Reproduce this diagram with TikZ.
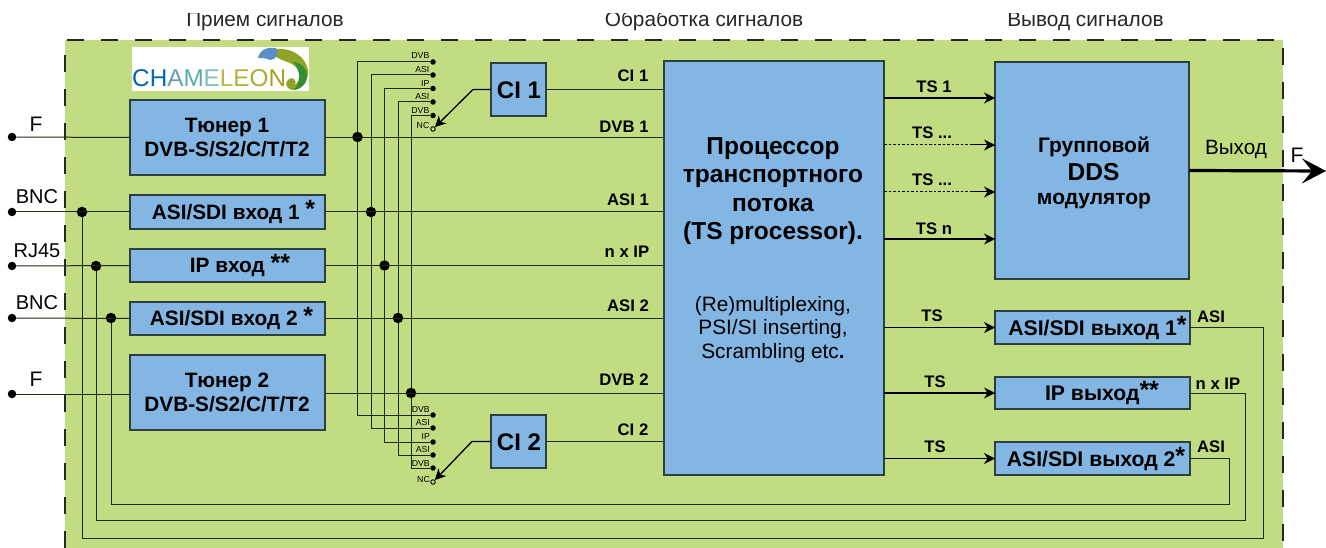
\documentclass[tikz,border=0pt]{standalone}
\usepackage{fontspec}
\setmainfont{Liberation Sans}
\usetikzlibrary{arrows.meta,calc}
\definecolor{bggreen}{HTML}{C2DC82}
\definecolor{boxblue}{HTML}{83B6E2}
\definecolor{boxline}{HTML}{2E3F3F}
\definecolor{wire}{HTML}{1E2A14}
\newcommand{\fs}[1]{\fontsize{#1}{#1}\selectfont}
\newcommand{\fsb}[2]{\fontsize{#1}{#2}\selectfont}
\newcommand{\strs}[1]{\raisebox{1.5pt}{\fs{25}#1}}
\tikzset{
  x=1pt,y=-1pt,
  blk/.style={draw=boxline,line width=1.1pt,fill=boxblue,inner sep=0pt,outer sep=0pt},
  blktxt/.style={inner sep=0pt,align=center,font=\bfseries\fsb{20.8}{24}},
  wireln/.style={draw=wire,line width=1pt},
  dotj/.style={circle,fill=black,inner sep=0pt,minimum size=10.5pt},
  dotp/.style={circle,fill=black,inner sep=0pt,minimum size=5.5pt},
  openp/.style={circle,draw=black,fill=none,line width=.9pt,inner sep=0pt,minimum size=4.5pt},
  termd/.style={circle,fill=black,inner sep=0pt,minimum size=8.5pt},
  lab/.style={inner sep=0pt,font=\bfseries\fs{16.7}},
  plain/.style={inner sep=0pt,font=\fs{20}},
  small/.style={inner sep=0pt,anchor=east,font=\fs{8.7}},
  tip/.style={-{Stealth[length=11pt,width=11pt,inset=3.5pt]}},
  head/.style={inner sep=0pt,anchor=base,font=\fs{20.8},text=black!85},
}
\begin{document}
\begin{tikzpicture}
\useasboundingbox (0,0) rectangle (1326,548);
% backdrop
\fill[bggreen] (65,40) rectangle (1283,548);
\draw[black!85,line width=1.2pt,dash pattern=on 17pt off 17pt] (65,548) -- (65,40) -- (1283,40) -- (1283,548);
% headers, cut at the top as in the reference
\begin{scope}
\clip (0,13.5) rectangle (1326,60);
\node[head] (h1) at (265,27) {Прием сигналов};
\node[head] (h2) at (704,27) {Обработка сигналов};
\node[head] (h3) at (1085.5,27) {Вывод сигналов};
\end{scope}
% logo
\fill[white] (132,47) rectangle (309,91);
\node[inner sep=0pt,anchor=base west,font=\fs{24.3}] (logo) at (132,87) {\textcolor{blue!45!cyan!70!black}{C}\textcolor{blue!40!cyan!70!black}{H}\textcolor{cyan!55!black!75}{A}\textcolor{teal!65}{M}\textcolor{teal!50}{E}\textcolor{olive!60}{L}\textcolor{olive!65}{E}\textcolor{olive!70}{O}\textcolor{olive!80}{N}};
\fill[olive!75!green!85] (270,50) .. controls (285,46) and (304,52) .. (308,70) .. controls (309,82) and (300,91) .. (292,90) .. controls (286,89) and (284,82) .. (289,79) .. controls (294,76) and (298,82) .. (294,85) .. controls (302,82) and (300,68) .. (292,64) .. controls (284,60) and (276,60) .. (270,50);
\fill[teal!65!blue!65] (258,58) .. controls (260,49) and (268,47) .. (276,48) .. controls (280,53) and (276,60) .. (270,60) .. controls (266,58) and (262,58) .. (258,58);
\fill[green!45!black!80] (293,62) .. controls (301,63) and (307,68) .. (307,76) .. controls (307,84) and (300,90) .. (293,90) .. controls (301,84) and (302,70) .. (293,62);
% blocks
\node[blk,minimum width=195pt,minimum height=75pt] (tun1) at (227.5,137.5) {};
\node[blk,minimum width=195pt,minimum height=34pt] (asi1) at (227.5,212) {};
\node[blk,minimum width=195pt,minimum height=33pt] (ipin) at (227.5,265.5) {};
\node[blk,minimum width=195pt,minimum height=33pt] (asi2) at (227.5,318.5) {};
\node[blk,minimum width=195pt,minimum height=75pt] (tun2) at (227.5,392.5) {};
\node[blk,minimum width=55pt,minimum height=53pt] (ci1) at (518.5,89.5) {};
\node[blk,minimum width=55pt,minimum height=53pt] (ci2) at (518.5,441.5) {};
\node[blk,minimum width=220pt,minimum height=414pt] (proc) at (774,268) {};
\node[blk,minimum width=194pt,minimum height=217pt] (mod) at (1092,170.5) {};
\node[blk,minimum width=195pt,minimum height=33pt] (asio1) at (1092.5,327.5) {};
\node[blk,minimum width=195pt,minimum height=32pt] (ipo) at (1092.5,393) {};
\node[blk,minimum width=195pt,minimum height=33pt] (asio2) at (1092.5,458.5) {};
% block texts
\node[blktxt] (tun1t) at (227,138) {Тюнер 1\\DVB-S/S2/C/T/T2};
\node[blktxt] (asi1t) at (233.5,212) {ASI/SDI вход 1 \strs{*}};
\node[blktxt] (ipint) at (240,265.5) {IP вход \strs{**}};
\node[blktxt] (asi2t) at (231.5,318.5) {ASI/SDI вход 2 \strs{*}};
\node[blktxt] (tun2t) at (227,392) {Тюнер 2\\DVB-S/S2/C/T/T2};
\node[blktxt,font=\bfseries\fs{24}] (ci1t) at (519,90) {CI 1};
\node[blktxt,font=\bfseries\fs{24}] (ci2t) at (519,442) {CI 2};
\node[blktxt,font=\bfseries\fs{21.2}] (aot1) at (1097.5,328) {ASI/SDI выход 1\strs{*}};
\node[blktxt,font=\bfseries\fs{21.2}] (ipot) at (1102,393) {IP выход\strs{**}};
\node[blktxt,font=\bfseries\fs{21.2}] (aot2) at (1096,459) {ASI/SDI выход 2\strs{*}};
\node[inner sep=0pt,align=center,font=\bfseries\fsb{24.5}{28.5}] (proct) at (773,191) {Процессор\\транспортного\\потока\\(TS processor).};
\node[inner sep=0pt,align=center,font=\fsb{20.8}{23.2}] (procs) at (773,329.5) {(Re)multiplexing,\\PSI/SI inserting,\\Scrambling etc\textbf{.}};
\node[inner sep=0pt,anchor=base,font=\bfseries\fs{21}] (modt1) at (1094,153) {Групповой};
\node[inner sep=0pt,anchor=base,font=\bfseries\fs{24.5}] (modt2) at (1093.5,181) {DDS};
\node[inner sep=0pt,anchor=base,font=\bfseries\fs{21}] (modt3) at (1094,205) {модулятор};
% terminals
\node[termd] (tf1) at (12,137) {};
\node[termd] (tb1) at (12,212) {};
\node[termd] (tr) at (12,266) {};
\node[termd] (tb2) at (12,318) {};
\node[termd] (tf2) at (12,394) {};
\node[plain,font=\fs{21}] (lf1) at (36,124) {F};
\node[plain] (lb1) at (37,197) {BNC};
\node[plain] (lr) at (37,251) {RJ45};
\node[plain] (lb2) at (37,303) {BNC};
\node[plain,font=\fs{21}] (lf2) at (36,379) {F};
% junctions
\node[dotj] (jl1) at (82,212) {};
\node[dotj] (jl2) at (96,266) {};
\node[dotj] (jl3) at (111,318) {};
\node[dotj] (js1) at (357.5,137) {};
\node[dotj] (js2) at (371,212) {};
\node[dotj] (js3) at (384.5,265.5) {};
\node[dotj] (js4) at (398,318) {};
\node[dotj] (js5) at (411,393) {};
% switch contacts, top
\node[dotp] (a1) at (433,62) {};
\node[dotp] (a2) at (433,75) {};
\node[dotp] (a3) at (433,88.5) {};
\node[dotp] (a4) at (433,102) {};
\node[dotp] (a5) at (433,115.5) {};
\node[openp] (a6) at (433,129) {};
% switch contacts, bottom
\node[dotp] (b1) at (433,415) {};
\node[dotp] (b2) at (433,428) {};
\node[dotp] (b3) at (433,442) {};
\node[dotp] (b4) at (433,455) {};
\node[dotp] (b5) at (433,468) {};
\node[openp] (b6) at (433,482) {};
\foreach \n/\t/\y in {a1/DVB/56,a2/ASI/69.5,a3/IP/83.5,a4/ASI/97,a5/DVB/111,a6/NC/126}{
  \node[small] (l\n) at (429.5,\y) {\t};
}
\foreach \n/\t/\y in {b1/DVB/409.5,b2/ASI/423,b3/IP/437,b4/ASI/450,b5/DVB/464,b6/NC/480}{
  \node[small] (l\n) at (430,\y) {\t};
}
% input wires
\draw[wireln] (tf1) -- (tun1.west);
\draw[wireln] (tb1) -- (asi1.west);
\draw[wireln] (tr) -- (ipin.west);
\draw[wireln] (tb2) -- (asi2.west);
\draw[wireln] (tf2) -- (tf2 -| tun2.west);
% inputs to processor
\draw[wireln] (tun1.east) -- (tun1.east -| proc.west);
\draw[wireln] (asi1.east) -- (asi1.east -| proc.west);
\draw[wireln] (ipin.east) -- (ipin.east -| proc.west);
\draw[wireln] (asi2.east) -- (asi2.east -| proc.west);
\draw[wireln] (js5 -| tun2.east) -- (js5 -| proc.west);
\draw[wireln] (ci1.east) -- (ci1.east -| proc.west);
\draw[wireln] (ci2.east) -- (ci2.east -| proc.west);
% switch buses
\draw[wireln] (a1) -| (js1) |- (b1);
\draw[wireln] (a2) -| (js2) |- (b2);
\draw[wireln] (a3) -| (js3) |- (b3);
\draw[wireln] (a4) -| (js4) |- (b4);
\draw[wireln] (a5) -| (js5) |- (b5);
% CI selectors
\coordinate (c1k) at (473,89.5);
\coordinate (c2k) at (472,441.5);
\draw[line width=1.3pt,black,tip] (ci1.west) -- (c1k) -- (a6);
\draw[line width=1.3pt,black,tip] (ci2.west) -- (c2k) -- (b6);
% loop-through wires
\coordinate (r1) at (1263,538);
\coordinate (r2) at (1245,520);
\coordinate (r3) at (1229,504);
\draw[wireln] (jl1) |- (r1) -- (r1 |- asio1.east) -- (asio1.east);
\draw[wireln] (jl2) |- (r2) -- (r2 |- ipo.east) -- (ipo.east);
\draw[wireln] (jl3) |- (r3) -- (r3 |- asio2.east) -- (asio2.east);
% processor to outputs
\coordinate (p1) at (884,98);
\coordinate (p2) at (884,145);
\coordinate (p3) at (884,192);
\coordinate (p4) at (884,239);
\draw[line width=1.2pt,black,tip] (p1) -- (p1 -| mod.west);
\draw[line width=1pt,black,dash pattern=on 2.5pt off 2pt] (p2) -- ($(p2 -| mod.west)+(-22,0)$);
\draw[line width=1pt,black,tip] ($(p2 -| mod.west)+(-24,0)$) -- (p2 -| mod.west);
\draw[line width=1pt,black,dash pattern=on 2.5pt off 2pt] (p3) -- ($(p3 -| mod.west)+(-22,0)$);
\draw[line width=1pt,black,tip] ($(p3 -| mod.west)+(-24,0)$) -- (p3 -| mod.west);
\draw[line width=1.2pt,black,tip] (p4) -- (p4 -| mod.west);
\draw[line width=1.2pt,black,tip] (asio1.west -| proc.east) -- (asio1.west);
\draw[line width=1.2pt,black,tip] (ipo.west -| proc.east) -- (ipo.west);
\draw[line width=1.2pt,black,tip] (asio2.west -| proc.east) -- (asio2.west);
% main output
\coordinate (outF) at (1326,171);
\draw[line width=3.2pt,black,-{Stealth[length=24pt,width=25pt,inset=10pt]}] (mod.east) -- (outF);
% wire labels
\node[lab] (w1) at (633,76) {CI 1};
\node[lab] (w2) at (624,127) {DVB 1};
\node[lab] (w3) at (628,200) {ASI 1};
\node[lab] (w4) at (627,252) {n x IP};
\node[lab] (w5) at (628,306) {ASI 2};
\node[lab] (w6) at (624,380) {DVB 2};
\node[lab] (w7) at (633,430) {CI 2};
\node[lab] (t1) at (934,87) {TS 1};
\node[lab] (t2) at (932,133) {TS ...};
\node[lab] (t3) at (932,180) {TS ...};
\node[lab] (t4) at (934,229) {TS n};
\node[lab] (t5) at (932,316) {TS};
\node[lab] (t6) at (935,382) {TS};
\node[lab] (t7) at (935,447) {TS};
\node[lab] (o1) at (1211,317) {ASI};
\node[lab] (o2) at (1218,384) {n x IP};
\node[lab] (o3) at (1211,447) {ASI};
\node[plain,font=\fs{20.7}] (v1) at (1236,149) {Выход};
\node[plain,font=\fs{21}] (v2) at (1297,155) {F};
\end{tikzpicture}
\end{document}
